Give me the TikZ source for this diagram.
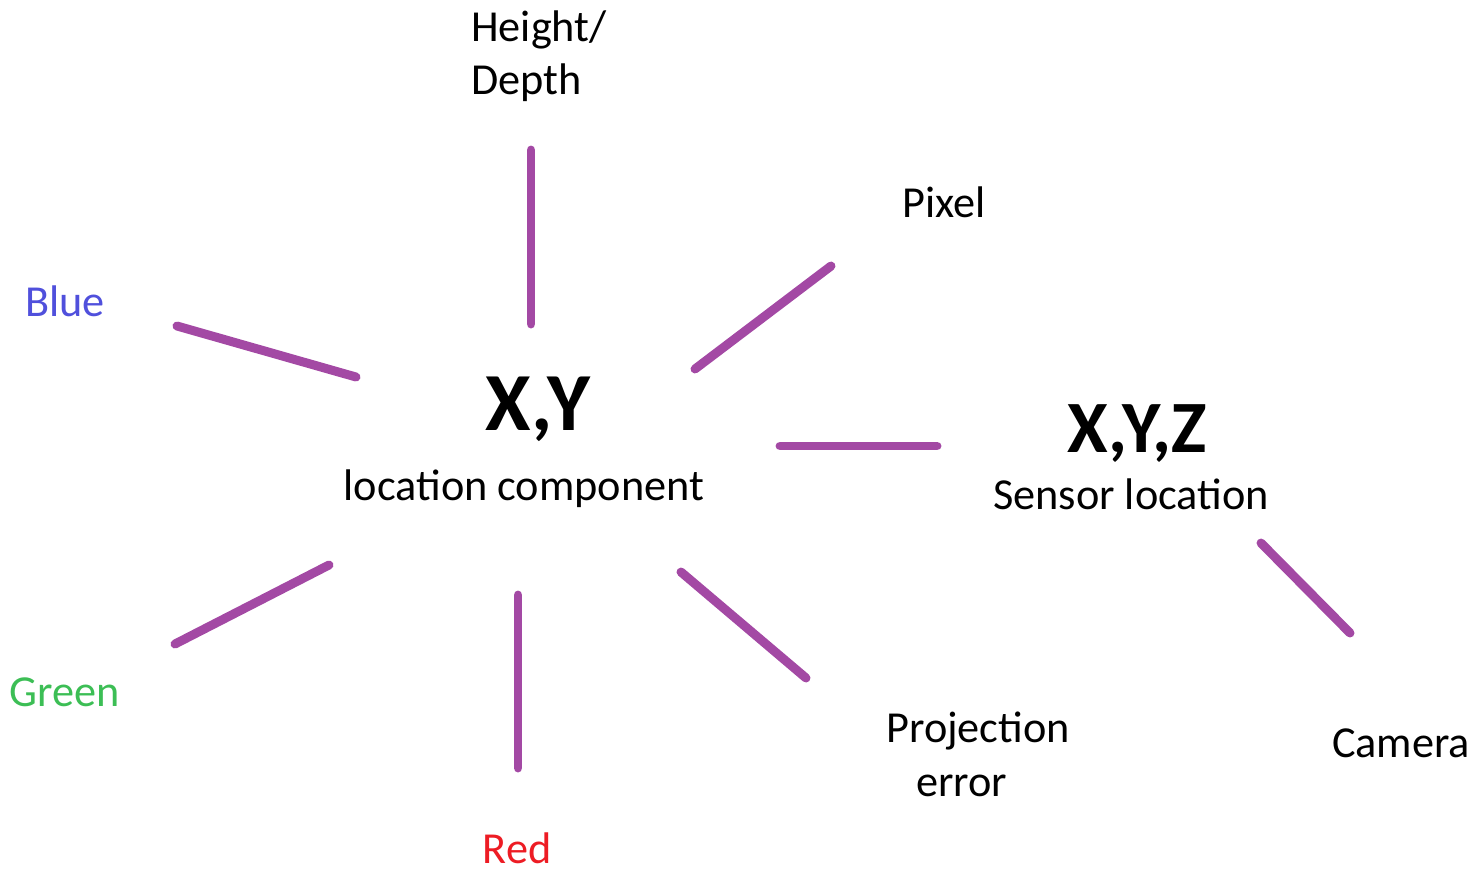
\documentclass[tikz,border=0pt]{standalone}
\usepackage{fontspec}
\setmainfont{Carlito}
\definecolor{linkpurple}{HTML}{A349A4}
\definecolor{txtblue}{HTML}{5050DC}
\definecolor{txtgreen}{HTML}{3CBE55}
\definecolor{txtred}{HTML}{ED1C24}
\begin{document}
\begin{tikzpicture}[x=0.02cm,y=-0.02cm,
    link/.style={draw=linkpurple,line width=5.1pt,line cap=round},
    lbl/.style={inner sep=0pt,font=\fontsize{25.2}{30.5}\selectfont},
    bigxy/.style={inner sep=0pt,font=\fontsize{47}{54}\selectfont\bfseries},
    bigxyz/.style={inner sep=0pt,font=\fontsize{42}{48}\selectfont\bfseries}]
  \useasboundingbox (0,0) rectangle (1473,870);

  % centre labels
  \node[bigxy, anchor=base] (xy) at (538,430) {X,Y};
  \node[lbl, anchor=base] (xycomp) at (524,500) {location component};
  \node[bigxyz, anchor=base] (xyz) at (1137,452) {X,Y,Z};
  \node[lbl, anchor=base] (sensor) at (1131,509) {Sensor location};

  % outer labels
  \node[lbl, anchor=north west, align=left] (height) at (471,10) {Height/\\Depth};
  \node[lbl, anchor=base] (pixel) at (944,217) {Pixel};
  \node[lbl, anchor=base, text=txtblue] (blue) at (65,316) {Blue};
  \node[lbl, anchor=base, text=txtgreen] (green) at (65,706) {Green};
  \node[lbl, anchor=base, text=txtred] (red) at (517,863) {Red};
  \node[lbl, anchor=north west, align=left] (proj) at (886,712) {Projection\\\hspace*{0.6cm}error};
  \node[lbl, anchor=base] (camera) at (1401,757) {Camera};

  % line ends
  \coordinate (h1) at (531,150);  \coordinate (h2) at (531,324);
  \coordinate (p1) at (695,369);  \coordinate (p2) at (831,266);
  \coordinate (b1) at (177,326);  \coordinate (b2) at (356,377);
  \coordinate (s1) at (780,446);  \coordinate (s2) at (937,446);
  \coordinate (g1) at (175,644);  \coordinate (g2) at (329,565);
  \coordinate (r1) at (518,595);  \coordinate (r2) at (518,768);
  \coordinate (e1) at (681,572);  \coordinate (e2) at (806,678);
  \coordinate (c1) at (1261,543); \coordinate (c2) at (1350,633);

  % connectors
  \draw[link] (h1) -- (h2);
  \draw[link] (p1) -- (p2);
  \draw[link] (b1) -- (b2);
  \draw[link] (s1) -- (s2);
  \draw[link] (g1) -- (g2);
  \draw[link] (r1) -- (r2);
  \draw[link] (e1) -- (e2);
  \draw[link] (c1) -- (c2);
\end{tikzpicture}
\end{document}
